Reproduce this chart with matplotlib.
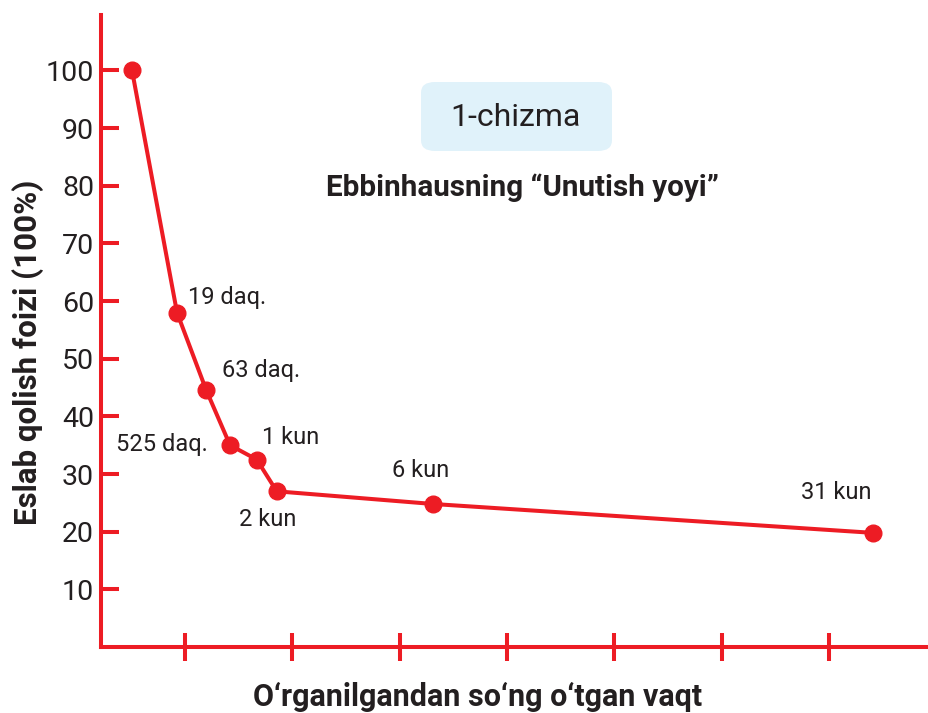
import matplotlib.pyplot as plt
from matplotlib.patches import FancyBboxPatch

plt.rcParams['font.family'] = ['Roboto', 'DejaVu Sans']

# Unutish egri chizig'i nuqtalari
vaqt = [0.506, 0.925, 1.196, 1.419, 1.668, 1.854, 3.311, 7.404]
foiz = [100, 58, 44.6, 35, 32.5, 27, 24.8, 19.8]
yorliqlar = ["", "19 daq.", "63 daq.", "525 daq.", "1 kun", "2 kun", "6 kun", "31 kun"]
y_belgilar = [10, 20, 30, 40, 50, 60, 70, 80, 90, 100]
x_belgilar = [1, 2, 3, 4, 5, 6, 7]

qizil = '#ED1C24'
matn = '#231F20'

fig = plt.figure(figsize=(9.29, 7.13), dpi=100)
ax = fig.add_axes([101 / 929, 66 / 713, 828 / 929, 632 / 713])

ax.plot(vaqt, foiz, color=qizil, lw=2.9, marker='o', markersize=12, zorder=3, clip_on=False)

ax.set_xlim(0.217, 7.93)
ax.set_ylim(0, 109.6)
ax.set_yticks(y_belgilar)
ax.set_yticklabels([str(v) for v in y_belgilar])
ax.set_xticks(x_belgilar)
ax.set_xticklabels([])

for s in ['top', 'right']:
    ax.spines[s].set_visible(False)
for s in ['left', 'bottom']:
    ax.spines[s].set_color(qizil)
    ax.spines[s].set_linewidth(2.9)

ax.tick_params(axis='y', direction='in', length=13, width=2.9, color=qizil,
               labelsize=20.5, labelcolor=matn, pad=5)
ax.tick_params(axis='x', direction='inout', length=19.5, width=2.9, color=qizil)

# Nuqta yorliqlari (siljish pikselda)
siljish = {
    1: (11, 15, 'left'),
    2: (16, 19, 'left'),
    3: (-22, 1, 'right'),
    4: (5, 22, 'left'),
    5: (-9, -28, 'center'),
    6: (-13, 33, 'center'),
    7: (-36, 40, 'center'),
}
for i, (dx, dy, ha) in siljish.items():
    ax.annotate(yorliqlar[i], (vaqt[i], foiz[i]), xytext=(dx * 0.72, dy * 0.72),
                textcoords='offset points', ha=ha, va='center',
                fontsize=17, color=matn)

# Chizma raqami
quti = FancyBboxPatch((421 / 929, 1 - 151 / 713), 191 / 929, 69 / 713,
                      boxstyle='round,pad=0,rounding_size=0.015',
                      transform=fig.transFigure, facecolor='#E0F2FA',
                      edgecolor='none')
fig.patches.append(quti)
fig.text(516 / 929, 1 - 118 / 713, "1-chizma", ha='center', va='center',
         fontsize=23, color=matn)

fig.text(522 / 929, 1 - 188 / 713, "Ebbinhausning “Unutish yoyi”", ha='center',
         va='center', fontsize=21.3, fontweight='bold', color=matn)

fig.text(28 / 929, 1 - 352 / 713, "Eslab qolish foizi (100%)", rotation=90,
         ha='center', va='center', fontsize=22.5, fontweight='bold', color=matn)
fig.text(478 / 929, 1 - 697 / 713, "O‘rganilgandan so‘ng o‘tgan vaqt", ha='center',
         va='center', fontsize=22, fontweight='bold', color=matn)

fig.savefig('out.png', dpi=100)
